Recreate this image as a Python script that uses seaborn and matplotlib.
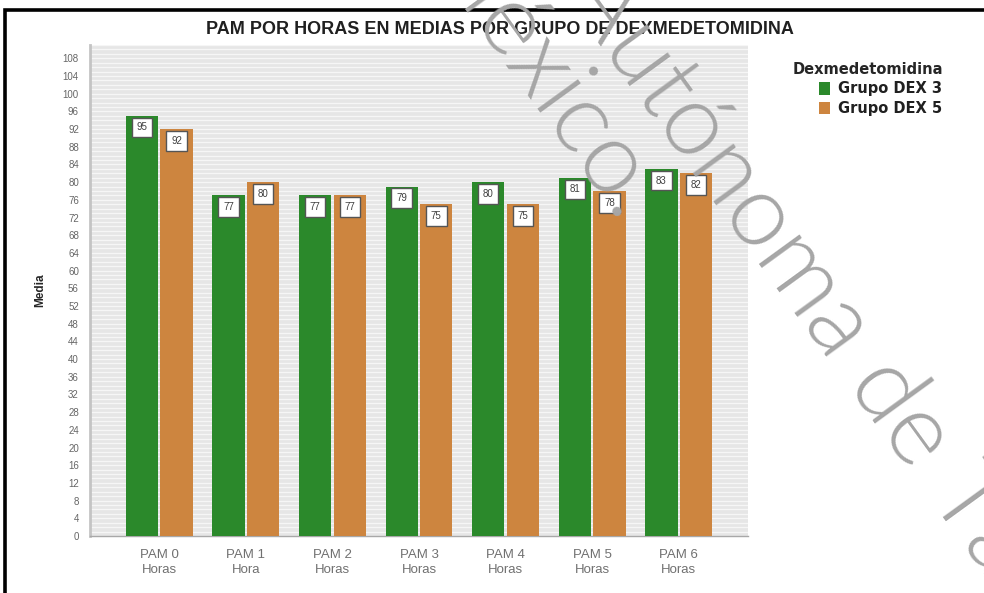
import matplotlib
matplotlib.use('Agg')
import numpy as np
import pandas as pd
import seaborn as sns
import matplotlib.pyplot as plt
from matplotlib.patches import Rectangle

# Data
horas = ["PAM 0\nHoras", "PAM 1\nHora", "PAM 2\nHoras", "PAM 3\nHoras",
         "PAM 4\nHoras", "PAM 5\nHoras", "PAM 6\nHoras"]
grupos = ["Grupo DEX 3", "Grupo DEX 5"]
dex3 = [95, 77, 77, 79, 80, 81, 83]
dex5 = [92, 80, 77, 75, 75, 78, 82]
colores = ["#2b892b", "#cd853f"]
y_ticks = list(range(0, 109, 4))

df = pd.DataFrame({
    "hora": horas * 2,
    "grupo": [grupos[0]] * len(horas) + [grupos[1]] * len(horas),
    "media": dex3 + dex5,
})

sns.set_style("white")
plt.rcParams['font.family'] = ['Liberation Sans', 'DejaVu Sans']

fig = plt.figure(figsize=(9.84, 5.93), dpi=100)
ax = fig.add_axes([90 / 984, 1 - 536 / 593, 658 / 984, 491 / 593])

sns.barplot(data=df, x="hora", y="media", hue="grupo", palette=colores,
            width=0.8, gap=0.07, errorbar=None, saturation=1,
            edgecolor="none", ax=ax, zorder=3)

# value boxes just under the top of each bar
for cont in ax.containers:
    ax.bar_label(cont, labels=[f"{v:.0f}" for v in cont.datavalues],
                 padding=-12, fontsize=7, color="#404040", zorder=5,
                 bbox=dict(boxstyle="square,pad=0.5", fc="white",
                           ec="#555555", lw=1.0))

ax.set_xlim(-0.8, 6.8)
ax.set_ylim(0, 111)
ax.set_yticks(y_ticks)
ax.set_yticks(np.arange(0, 112, 1), minor=True)
ax.set_facecolor("#e6e6e6")
ax.yaxis.grid(True, which="both", color="#f6f6f6", lw=0.9)
ax.set_axisbelow(True)

ax.tick_params(axis="y", which="both", length=0, labelsize=7,
               labelcolor="#666666", pad=8)
ax.tick_params(axis="x", length=0, labelsize=9.5, labelcolor="#707070", pad=9)
for lab in ax.get_xticklabels():
    lab.set_linespacing(1.35)
ax.set_xlabel("")
ax.set_ylabel("Media", fontsize=8.5, fontweight="bold", labelpad=12)

for side in ["top", "right"]:
    ax.spines[side].set_visible(False)
ax.spines["left"].set_color("#c4c4c4")
ax.spines["left"].set_linewidth(2)
ax.spines["bottom"].set_color("#a8a8a8")
ax.spines["bottom"].set_linewidth(1)

ax.get_legend().remove()
handles = [Rectangle((0, 0), 1, 1, fc=c, ec="none") for c in colores]
leg = fig.legend(handles, grupos, title="Dexmedetomidina",
                 loc="upper left", bbox_to_anchor=(779 / 984, 1 - 49 / 593),
                 frameon=False, handlelength=0.75, handleheight=0.9,
                 handletextpad=0.6, labelspacing=0.3, alignment="right",
                 prop={"family": ["DejaVu Sans"], "weight": "bold", "size": 10.5},
                 title_fontproperties={"family": ["DejaVu Sans"],
                                       "weight": "bold", "size": 10.5})
for t in leg.get_texts():
    t.set_color("#202020")

fig.text(500 / 984, 1 - 30 / 593,
         "PAM POR HORAS EN MEDIAS POR GRUPO DE DEXMEDETOMIDINA",
         ha="center", va="center", fontsize=13, fontweight="bold",
         color="#202020")

# black frame of the original screenshot
fig.add_artist(Rectangle((5 / 984, -0.2), 1.2, 1.2 - 10 / 593,
                         transform=fig.transFigure, fill=False,
                         ec="black", lw=2.6, zorder=10))

# watermark text
ang = -54
fig.text(561 / 984, 1 + 6 / 593, "Autónoma de Tabasco.",
         rotation=ang, rotation_mode="anchor", ha="left", va="baseline",
         fontsize=73, color="#a6a6a6", fontweight=300,
         family=["Lato", "DejaVu Sans"], zorder=20)
fig.text(615 / 984, 1 - 232 / 593, "México.",
         rotation=ang, rotation_mode="anchor", ha="right", va="baseline",
         fontsize=73, color="#a6a6a6", fontweight=300,
         family=["Lato", "DejaVu Sans"], zorder=20)

fig.savefig("out.png", dpi=100)
